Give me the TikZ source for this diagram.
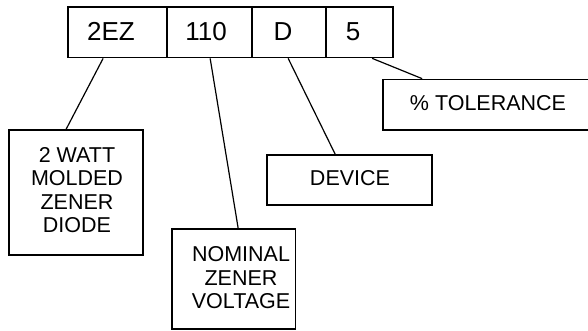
\documentclass[tikz,border=0pt]{standalone}
\usepackage{fontspec}
\setmainfont{Liberation Sans}
\usetikzlibrary{calc}
\tikzset{
  codebox/.style={draw, line width=1.7pt, rectangle, inner sep=0pt, minimum width=#1},
  labelbox/.style={draw, line width=1.7pt, rectangle, inner sep=0pt},
  toptext/.style={inner sep=0pt, font=\fontsize{26}{30}\selectfont},
  lowtext/.style={inner sep=0pt, align=center, font=\fontsize{21.5}{23.5}\selectfont},
  leader/.style={line width=1.2pt}
}
\begin{document}
\begin{tikzpicture}[x=1pt,y=-1pt]
\useasboundingbox (0,0) rectangle (588,331);
\clip (0,0) rectangle (588,331);
% code boxes
\node[codebox=99, minimum height=50.5] (t1) at (117.5,32.25) {};
\node[codebox=85, minimum height=50.5] (t2) at (209.5,32.25) {};
\node[codebox=74, minimum height=50.5] (t3) at (289,32.25) {};
\node[codebox=67, minimum height=50.5] (t4) at (359.5,32.25) {};
\node[toptext] (c1) at (111,31.7) {2EZ};
\node[toptext] (c2) at (206,31.7) {110};
\node[toptext] (c3) at (283,31.7) {D};
\node[toptext] (c4) at (353,31.7) {5};
% label boxes
\node[labelbox, minimum width=134, minimum height=125] (wb) at (76,192.5) {};
\node[labelbox, minimum width=123.5, minimum height=100] (nb) at (233.75,279) {};
\node[labelbox, minimum width=165, minimum height=50] (db) at (349.5,180) {};
\node[labelbox, minimum width=217, minimum height=50.5] (tb) at (491.5,104.75) {};
\node[lowtext] (wl) at (77,190) {2 WATT\\MOLDED\\ZENER\\DIODE};
\node[lowtext] (nl) at (241,277.6) {NOMINAL\\ZENER\\VOLTAGE};
\node[lowtext] (dl) at (350,177.7) {DEVICE};
\node[lowtext] (tl) at (488,103) {\% TOLERANCE};
% leaders
\draw[leader] ($(t1.south west)+(36,0)$) -- ($(wb.north west)+(58,0)$);
\draw[leader] ($(t2.south west)+(44,0)$) -- ($(nb.north west)+(67,0)$);
\draw[leader] ($(t3.south west)+(37,0)$) -- ($(db.north west)+(69,0)$);
\draw[leader] ($(t4.south west)+(47,0)$) -- ($(tb.north west)+(40,0)$);
\end{tikzpicture}
\end{document}
